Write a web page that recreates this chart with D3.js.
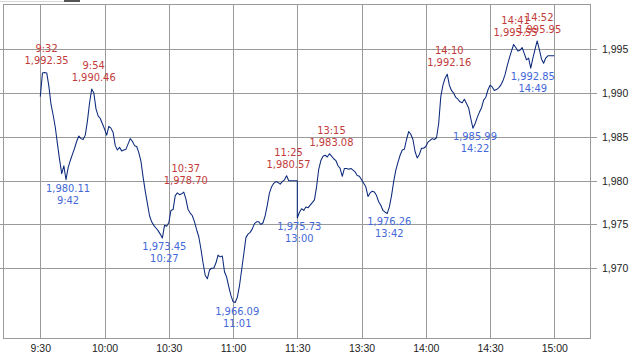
<!DOCTYPE html>
<html>
<head>
<meta charset="utf-8">
<script src="https://cdn.jsdelivr.net/npm/d3@7"></script>
<style>
  html, body { margin: 0; padding: 0; background: #fff; }
  svg { display: block; font-family: "DejaVu Sans Condensed", "DejaVu Sans", sans-serif; font-stretch: condensed; }
  .grid line { stroke: #9a9a9a; stroke-width: 1; shape-rendering: crispEdges; }
  .axis text { fill: #222; }
</style>
</head>
<body>
<svg id="chart" width="636" height="355"></svg>
<script>
// intraday index, one value per minute
// morning: 9:30 .. 11:30
const morning = [
  1989.6, 1992.3, 1992.35, 1992.3, 1990.8, 1988.7, 1987.5, 1986.1, 1984.2, 1982.4,
  1980.8, 1981.7, 1980.11, 1981.5, 1982.3, 1983.0, 1983.7, 1984.5, 1985.1, 1984.8,
  1984.7, 1985.2, 1986.8, 1988.9, 1990.46, 1990.0, 1988.2, 1987.4, 1987.1, 1986.5,
  1985.9, 1985.2, 1986.2, 1986.0, 1985.5, 1984.0, 1983.5, 1983.8, 1983.4, 1983.5,
  1983.6, 1984.2, 1984.8, 1984.5, 1984.0, 1983.9, 1983.2, 1982.2, 1980.4, 1978.8,
  1977.4, 1976.0, 1975.3, 1974.9, 1974.6, 1974.3, 1973.9, 1973.45, 1974.9, 1974.8,
  1975.2, 1976.6, 1976.7, 1978.3, 1978.6, 1978.4, 1978.5, 1978.7, 1977.9, 1976.7,
  1976.3, 1976.0, 1975.3, 1974.4, 1973.6, 1972.2, 1970.6, 1969.2, 1968.8, 1969.8,
  1970.0, 1970.0, 1970.6, 1971.5, 1971.3, 1971.4, 1969.6, 1969.0, 1967.9, 1966.9,
  1966.2, 1966.09, 1966.7, 1968.0, 1969.8, 1971.6, 1973.5, 1973.9, 1974.1, 1974.5,
  1975.1, 1975.3, 1975.3, 1975.0, 1975.2, 1976.0, 1977.2, 1978.6, 1979.3, 1979.7,
  1979.9, 1979.8, 1979.6, 1979.9, 1980.1, 1980.57, 1980.0, 1980.0, 1980.0, 1980.0,
  1980.0
];
// afternoon: 13:00 .. 15:00
const afternoon = [
  1975.73, 1976.4, 1976.8, 1976.6, 1977.0, 1976.9, 1977.2, 1977.5, 1977.8, 1979.3,
  1981.3, 1982.3, 1982.8, 1982.9, 1982.7, 1983.08, 1982.8, 1982.5, 1982.3, 1981.7,
  1981.4, 1980.5, 1981.4, 1981.4, 1981.3, 1981.4, 1981.2, 1981.0, 1980.6, 1980.5,
  1980.1, 1979.7, 1979.3, 1978.2, 1978.6, 1978.8, 1978.7, 1978.3, 1977.6, 1977.2,
  1976.6, 1976.4, 1976.26, 1977.0, 1978.3, 1979.9, 1981.2, 1982.1, 1982.9, 1983.5,
  1983.6, 1984.7, 1985.6, 1985.3, 1984.7, 1983.3, 1982.6, 1983.0, 1983.7, 1983.7,
  1983.9, 1984.4, 1984.6, 1984.8, 1984.7, 1984.9, 1986.5, 1989.6, 1990.9, 1991.7,
  1992.16, 1990.9, 1990.3, 1990.0, 1989.5, 1989.3, 1989.0, 1988.9, 1989.3, 1988.8,
  1988.3, 1987.1, 1985.99, 1986.5, 1987.2, 1987.8, 1988.3, 1989.2, 1989.5, 1990.35,
  1990.9, 1990.7, 1990.3, 1990.4, 1990.6, 1990.9, 1991.4, 1992.1, 1993.1, 1994.0,
  1994.8, 1995.55, 1995.2, 1994.8, 1994.9, 1995.2, 1994.5, 1993.8, 1994.0, 1992.85,
  1994.0, 1995.0, 1995.95, 1995.0, 1993.9, 1993.4, 1994.0, 1994.26, 1994.26, 1994.26,
  1994.26
];

const highs = [
  ["9:32", 1992.35], ["9:54", 1990.46], ["10:37", 1978.70], ["11:25", 1980.57],
  ["13:15", 1983.08], ["14:10", 1992.16], ["14:41", 1995.55], ["14:52", 1995.95]
];
const lows = [
  ["9:42", 1980.11], ["10:27", 1973.45], ["11:01", 1966.09], ["13:00", 1975.73],
  ["13:42", 1976.26], ["14:22", 1985.99], ["14:49", 1992.85]
];

const xTicks = ["9:30", "10:00", "10:30", "11:00", "11:30", "13:30", "14:00", "14:30", "15:00"];
const yTicks = [1970, 1975, 1980, 1985, 1990, 1995];

// minutes of trading since 9:30, lunch break squeezed out
function tradeIndex(t) {
  const [h, m] = t.split(":").map(Number);
  const mins = h * 60 + m - (9 * 60 + 30);
  return mins > 120 ? mins - 90 : mins;
}

const svg = d3.select("#chart");
const plot = { left: 3, right: 590, top: 4, bottom: 338 };

const x = d3.scaleLinear().domain([0, 240]).range([40.3, 554.3]);
const y = d3.scaleLinear().domain([1962.04, 2000.17]).range([plot.bottom, plot.top]);
const fmt = d3.format(",.2f");

const points = morning.map((v, i) => [i, v])
  .concat(afternoon.map((v, i) => [120 + i, v]));

// little bar at the very top edge
svg.append("line")
  .attr("x1", 0).attr("x2", 80).attr("y1", 1.5).attr("y2", 1.5)
  .attr("stroke", "#d8d8d8");
svg.append("rect")
  .attr("x", 64).attr("y", 0).attr("width", 16).attr("height", 2)
  .attr("fill", "#555");

// grid + axes
svg.append("g")
  .attr("class", "grid axis")
  .attr("transform", `translate(0,${plot.bottom})`)
  .call(d3.axisBottom(x)
    .tickValues(xTicks.map(tradeIndex))
    .tickFormat((d, i) => xTicks[i])
    .tickSize(-(plot.bottom - plot.top))
    .tickPadding(5))
  .call(g => g.select(".domain").remove())
  .call(g => g.selectAll("text").attr("font-size", "10.5px").attr("dy", "0.9em"));

svg.append("g")
  .attr("class", "grid axis")
  .attr("transform", `translate(${plot.right + 7},0)`)
  .call(d3.axisRight(y)
    .tickValues(yTicks)
    .tickFormat(d3.format(","))
    .tickSize(-(plot.right + 7))
    .tickPadding(5))
  .call(g => g.select(".domain").remove())
  .call(g => g.selectAll("text").attr("font-size", "10.5px"));

svg.append("rect")
  .attr("x", plot.left + 0.5).attr("y", plot.top + 0.5)
  .attr("width", plot.right - plot.left).attr("height", plot.bottom - plot.top)
  .attr("fill", "none")
  .attr("stroke", "#9a9a9a")
  .attr("shape-rendering", "crispEdges");

// price line
const line = d3.line()
  .x(d => x(d[0]))
  .y(d => y(d[1]));

svg.append("path")
  .datum(points)
  .attr("fill", "none")
  .attr("stroke", "#0c2a7c")
  .attr("stroke-width", 1.05)
  .attr("stroke-linejoin", "round")
  .attr("d", line);

// high / low notes (the 14:41 and 14:52 notes overlap in the source too)
const notes = svg.append("g").attr("font-size", "11px").attr("text-anchor", "middle");

highs.forEach(([t, v]) => {
  const px = x(tradeIndex(t)) + 2, py = y(v);
  notes.append("text").attr("x", px).attr("y", py - 20).attr("fill", "#c23b3b").text(t);
  notes.append("text").attr("x", px).attr("y", py - 8).attr("fill", "#c23b3b").text(fmt(v));
});

lows.forEach(([t, v]) => {
  const px = x(tradeIndex(t)) + 2, py = y(v);
  notes.append("text").attr("x", px).attr("y", py + 12).attr("fill", "#4468d8").text(fmt(v));
  notes.append("text").attr("x", px).attr("y", py + 24).attr("fill", "#4468d8").text(t);
});
</script>
</body>
</html>
